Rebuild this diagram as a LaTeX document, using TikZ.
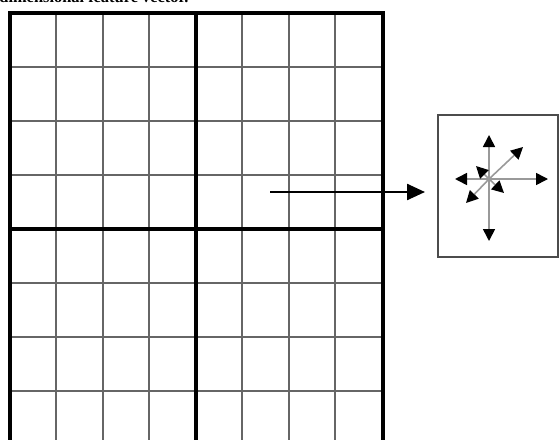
\documentclass[tikz,border=0pt]{standalone}
\usepackage{fontspec}
\setmainfont{Liberation Serif}
\usetikzlibrary{arrows.meta}
\begin{document}
\begin{tikzpicture}[x=0.5pt,y=-0.5pt,
  thinline/.style={draw=black!60,line width=1pt},
  thickline/.style={draw=black,line width=2pt,line cap=rect},
  vecline/.style={draw=black!40,line width=0.8pt,-{Triangle[length=6pt,width=6pt,color=black]}},
  bigarrow/.style={draw=black,line width=1.2pt,-{Triangle[length=9pt,width=8pt]}}]
\useasboundingbox (0,0) rectangle (560,439);
\clip (0,0) rectangle (560,439);
\node[anchor=base west,inner sep=0,font=\bfseries\fontsize{8.2}{9}\selectfont] (cap) at (-1,3) {dimensional feature vector.};
% thin grid lines
\foreach \x in {56,103,149,242,289,335} \draw[thinline] (\x,13) -- (\x,445);
\foreach \y in {67,121,175,283,337,391} \draw[thinline] (10,\y) -- (383,\y);
% thick lines
\draw[thickline] (10,445) -- (10,13) -- (383,13) -- (383,445);
\draw[thickline] (196,13) -- (196,445);
\draw[thickline] (10,229) -- (383,229);
% arrow
\coordinate (a0) at (270,192);
\node[draw=black!70,line width=1.3pt,minimum width=60pt,minimum height=71pt,inner sep=0] (box) at (498,186) {};
\coordinate (a1) at (425,192);
\draw[bigarrow] (a0) -- (a1);
% vectors
\coordinate (c) at (489,179);
\draw[vecline] (c) -- (489,135);
\draw[vecline] (c) -- (489,241);
\draw[vecline] (c) -- (455,179);
\draw[vecline] (c) -- (548,179);
\draw[vecline] (c) -- (523,147);
\draw[vecline] (c) -- (466,203);
\draw[vecline] (c) -- (476,166);
\draw[vecline] (c) -- (504,193);
\end{tikzpicture}
\end{document}
